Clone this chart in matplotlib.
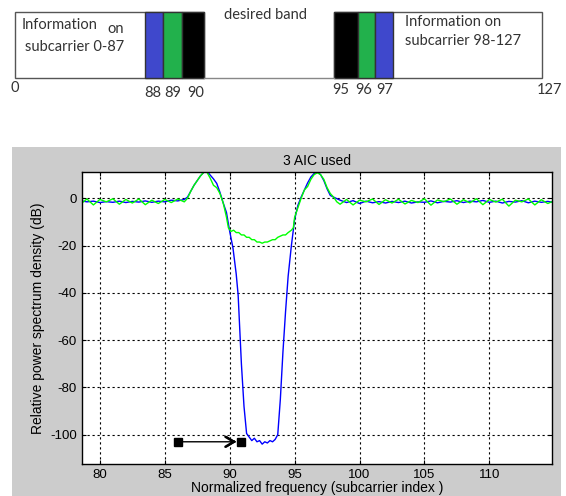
import matplotlib
matplotlib.use("Agg")
import matplotlib.pyplot as plt
from matplotlib.patches import Rectangle

# Spectrum (subcarrier index, dB)
blue_x = [78.5, 79.0, 79.5, 80.0, 80.5, 81.0, 81.5, 82.0, 82.5, 83.0, 83.5, 84.0,
          84.5, 85.0, 85.5, 86.0, 86.5, 86.75, 87.0, 87.25, 87.5, 87.75, 88.0,
          88.25, 88.5, 88.75, 89.0, 89.25, 89.5, 89.75, 90.0, 90.25, 90.5, 90.65,
          90.9, 91.1, 91.3, 91.5, 91.7, 91.9, 92.1, 92.3, 92.5, 92.7, 92.9, 93.1,
          93.3, 93.5, 93.7, 93.9, 94.1, 94.3, 94.5, 94.75, 95.0, 95.25, 95.5,
          95.75, 96.0, 96.25, 96.5, 96.75, 97.0, 97.25, 97.5, 97.75, 98.0, 98.5,
          99.0, 99.5, 100.0, 100.5, 101.0, 101.5, 102.0, 102.5, 103.0, 103.5,
          104.0, 104.5, 105.0, 105.5, 106.0, 106.5, 107.0, 107.5, 108.0, 108.5,
          109.0, 109.5, 110.0, 110.5, 111.0, 111.5, 112.0, 112.5, 113.0, 113.5,
          114.0, 114.5, 115.0]
blue_db = [-1.0, -1.5, -1.2, -1.8, -1.4, -1.7, -1.2, -1.8, -1.3, -1.6, -1.1, -1.7,
           -1.2, -1.5, -0.8, -1.1, -0.5, 0.5, 3.0, 5.5, 7.5, 9.5, 11.0,
           11.5, 9.8, 8.2, 6.3, 2.5, -2.0, -6.0, -14.0, -21.0, -32.0, -41.0,
           -70.0, -88.0, -99.5, -101.0, -102.5, -101.5, -103.0, -102.5, -104.0, -103.0, -103.5, -102.5,
           -103.0, -102.0, -100.0, -85.0, -65.0, -48.0, -33.0, -20.0, -9.0, -3.0, 0.5,
           3.5, 6.5, 9.0, 10.5, 11.2, 10.0, 7.5, 4.0, 1.2, 0.5, -0.8,
           -1.8, -1.0, -2.2, -1.2, -1.9, -1.4, -2.0, -1.3, -1.8, -1.2,
           -2.0, -1.5, -1.7, -1.1, -1.9, -1.3, -1.6, -1.0, -1.8, -1.2,
           -1.5, -0.9, -1.7, -1.2, -2.0, -1.3, -1.6, -1.0, -1.9, -1.2,
           -1.7, -1.3, -1.8]

green_x = [78.5, 79.0, 79.5, 80.0, 80.5, 81.0, 81.5, 82.0, 82.5, 83.0, 83.5, 84.0,
           84.5, 85.0, 85.5, 86.0, 86.5, 86.75, 87.0, 87.25, 87.5, 87.75, 88.0,
           88.25, 88.5, 88.75, 89.0, 89.25, 89.5, 89.75, 89.9, 90.1, 90.3, 90.5,
           90.7, 90.9, 91.1, 91.3, 91.5, 91.7, 91.9, 92.1, 92.3, 92.5, 92.7, 92.9,
           93.1, 93.3, 93.5, 93.7, 93.9, 94.1, 94.3, 94.5, 94.75, 94.9, 95.0,
           95.25, 95.5, 95.75, 96.0, 96.25, 96.5, 96.75, 97.0, 97.25, 97.5, 97.75,
           98.0, 98.25, 98.5, 99.0, 99.5, 100.0, 100.5, 101.0, 101.5, 102.0, 102.5,
           103.0, 103.5, 104.0, 104.5, 105.0, 105.5, 106.0, 106.5, 107.0, 107.5,
           108.0, 108.5, 109.0, 109.5, 110.0, 110.5, 111.0, 111.5, 112.0, 112.5,
           113.0, 113.5, 114.0, 114.5, 115.0]
green_db = [-2.5, -0.3, -2.8, -0.5, -1.5, -0.2, -2.5, -0.5, -2.0, -0.3, -2.7, -0.8,
            -2.2, -0.5, -1.8, -0.3, -1.5, 0.0, 3.0, 5.5, 7.5, 9.5, 11.0,
            11.0, 8.5, 5.5, 4.5, 2.0, -2.0, -8.0, -12.5, -14.0, -13.5, -14.5,
            -14.5, -15.5, -15.5, -16.5, -16.5, -17.5, -17.5, -18.5, -18.5, -19.0, -18.5, -18.5,
            -18.0, -17.5, -17.5, -16.5, -16.0, -15.5, -15.5, -14.5, -13.5, -12.5, -8.0,
            -4.0, 0.0, 3.5, 5.0, 8.0, 10.0, 10.8, 10.0, 8.0, 4.5, 2.0,
            0.5, -1.5, -2.5, -0.5, -2.8, -0.8, -1.5, -0.3, -2.6, -0.6, -2.0,
            -0.4, -2.4, -0.9, -1.8, -0.2, -2.9, -0.7, -1.4, -0.3, -2.5,
            -0.6, -1.9, -0.2, -2.7, -0.5, -1.6, -0.4, -3.3, -0.8, -1.5,
            -0.3, -2.8, -0.6, -2.2, -1.0]

arrow_start = 86.0
arrow_tip = 90.5
arrow_end = 90.9
arrow_level = -103.0

x_ticks = [80, 85, 90, 95, 100, 105, 110]
y_ticks = [0, -20, -40, -60, -80, -100]

# Band diagram
left_cells = ["88", "89", "90"]
right_cells = ["95", "96", "97"]
left_colors = ["#3f48cc", "#22b14c", "#000000"]
right_colors = ["#000000", "#22b14c", "#3f48cc"]
edge_labels = ["0", "127"]

W, H = 566, 496
plt.rcParams["axes.unicode_minus"] = False
fig = plt.figure(figsize=(W / 100, H / 100), dpi=100)
fig.patch.set_facecolor("white")

# overlay in pixel coordinates for the diagram and the gray panel
bg = fig.add_axes([0, 0, 1, 1], zorder=0)
bg.set_xlim(0, W)
bg.set_ylim(H, 0)
bg.axis("off")
bg.add_patch(Rectangle((12, 147), 549, 349, facecolor="#cccccc", edgecolor="none"))

txt = dict(family=["Lato", "DejaVu Sans"], color="#333333", fontsize=10.5)
bg.add_patch(Rectangle((15, 12), 189, 66, facecolor="white", edgecolor="#555555", lw=1))
bg.add_patch(Rectangle((334, 12), 208, 66, facecolor="white", edgecolor="#555555", lw=1))
bg.plot([204, 334], [78, 78], color="#888888", lw=1)

left_edges = [145, 163.3, 181.7, 204]
right_edges = [334, 358.3, 375, 393.3]
for i, c in enumerate(left_colors):
    x0, x1 = left_edges[i], left_edges[i + 1]
    bg.add_patch(Rectangle((x0, 12), x1 - x0, 66, facecolor=c, edgecolor="#333333", lw=1))
for i, c in enumerate(right_colors):
    x0, x1 = right_edges[i], right_edges[i + 1]
    bg.add_patch(Rectangle((x0, 12), x1 - x0, 66, facecolor=c, edgecolor="#333333", lw=1))

for lab, xp in zip(left_cells, [153, 173, 196]):
    bg.text(xp, 93, lab, ha="center", va="center", **txt)
for lab, xp in zip(right_cells, [341, 364, 385]):
    bg.text(xp, 90, lab, ha="center", va="center", **txt)
bg.text(15, 88, edge_labels[0], ha="center", va="center", **txt)
bg.text(550, 90, edge_labels[1], ha="center", va="center", **txt)

bg.text(22, 25, "Information", ha="left", va="center", **txt)
bg.text(107, 29, "on", ha="left", va="center", **txt)
bg.text(25, 47, "subcarrier 0-87", ha="left", va="center", **txt)
bg.text(265, 15, "desired band", ha="center", va="center", **txt)
bg.text(405, 22, "Information on", ha="left", va="center", **txt)
bg.text(405, 41, "subcarrier 98-127", ha="left", va="center", **txt)

# spectrum plot
ax = fig.add_axes([81.7 / W, 1 - 464 / H, 470 / W, 291.7 / H], zorder=1)
ax.set_facecolor("white")
ax.plot(blue_x, blue_db, color="#0000ff", lw=1)
ax.plot(green_x, green_db, color="#00ff00", lw=1)

ax.annotate("", xy=(arrow_tip, arrow_level), xytext=(arrow_start, arrow_level),
            arrowprops=dict(arrowstyle="->,head_length=0.5,head_width=0.3",
                            color="black", lw=1, mutation_scale=12,
                            shrinkA=0, shrinkB=0))
ax.annotate("", xy=(arrow_tip, arrow_level), xytext=(arrow_tip - 0.3, arrow_level),
            arrowprops=dict(arrowstyle="->,head_length=0.5,head_width=0.3",
                            color="black", lw=1.8, mutation_scale=12,
                            shrinkA=0, shrinkB=0))
ax.plot([arrow_start, arrow_end], [arrow_level, arrow_level], "s", color="black", ms=6)

ax.set_xlim(78.6, 114.8)
ax.set_ylim(-112.4, 11)
ax.set_xticks(x_ticks)
ax.set_yticks(y_ticks)
ax.grid(True, color="black", linestyle=(0, (2, 2.5)), lw=0.8)
ax.tick_params(direction="in", length=3, top=True, right=True, labelsize=9.5,
               colors="black", pad=3.5)
for lbl in ax.get_xticklabels() + ax.get_yticklabels():
    lbl.set_family(["Liberation Sans", "DejaVu Sans"])
for s in ax.spines.values():
    s.set_color("black")
    s.set_linewidth(1)

lab = dict(family=["Liberation Sans", "DejaVu Sans"], fontsize=10)
ax.set_title("3 AIC used", pad=5, **lab)
ax.set_xlabel("Normalized frequency (subcarrier index )", labelpad=0, **lab)
ax.set_ylabel("Relative power spectrum density (dB)", labelpad=4, **lab)

fig.savefig("out.png", dpi=100)
